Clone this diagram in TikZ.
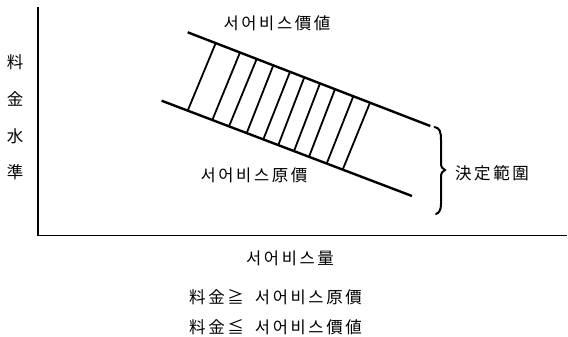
\documentclass[tikz,border=0pt]{standalone}
\usepackage{fontspec}
\newfontfamily\kr[LetterSpace=16]{Noto Sans CJK KR}
\begin{document}
\begin{tikzpicture}[x=1pt,y=-1pt,
  lbl/.style={font=\kr\fontsize{16.5}{18}\selectfont, inner sep=0pt},
  axisline/.style={line width=1.6pt},
  curve/.style={line width=2.4pt},
  hatch/.style={line width=1.8pt}]
\useasboundingbox (0,0) rectangle (568,337);
% axes
\coordinate (top) at (38,7);
\coordinate (origin) at (38,235.5);
\coordinate (xend) at (567,235.5);
\draw[axisline] (top) -- (origin) -- (xend);
% value and cost lines
\coordinate (v1) at (187.7,32.3);
\coordinate (v2) at (430.3,126);
\coordinate (c1) at (161.6,100.7);
\coordinate (c2) at (412,196);
\draw[curve] (v1) -- (v2);
\draw[curve] (c1) -- (c2);
% hatching
\foreach \a/\b in {187.7/215.7, 212.3/240, 229/256.7, 246.7/273.3, 263.3/290, 278.3/304.3, 294/320, 309/335, 326.7/353.3, 342.7/370}
  \draw[hatch] (\a,{100.7+(\a-161.6)*0.3806}) -- (\b,{32.3+(\b-187.7)*0.3862});
% brace
\coordinate (bt) at (434.5,127);
\coordinate (bm) at (445,170);
\coordinate (bb) at (436,214);
\draw[line width=2pt, line cap=round] (bt) .. controls (440,128) and (441,132) .. (441,140) -- (441,162)
  .. controls (441,167) and (442,169) .. (bm)
  .. controls (442,171) and (441,173) .. (441,178) -- (441,204)
  .. controls (441,210) and (439,213) .. (bb);
% labels
\node[lbl] (value) at (277,23.5) {서어비스價値};
\node[lbl] (cost) at (254,175) {서어비스原價};
\node[lbl] (range) at (492,173) {決定範圍};
\node[lbl] (y1) at (15,62) {料};
\node[lbl] (y2) at (15,98.5) {金};
\node[lbl] (y3) at (15,136.5) {水};
\node[lbl] (y4) at (15,172) {準};
\node[lbl] (xlab) at (290,258.5) {서어비스量};
\node[lbl, anchor=west] (r1) at (189,297.5) {料金≧\hspace{11pt}서어비스原價};
\node[lbl, anchor=west] (r2) at (189,327.5) {料金≦\hspace{11pt}서어비스價値};
\end{tikzpicture}
\end{document}
